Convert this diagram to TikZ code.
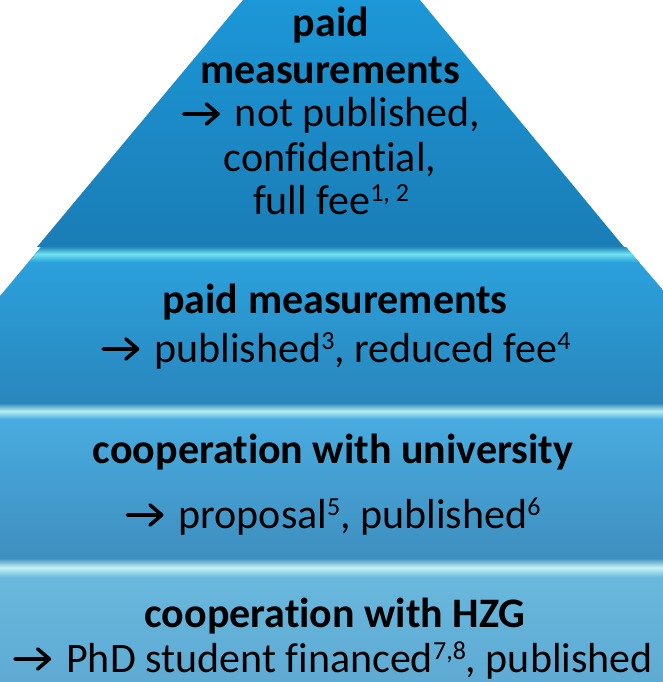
\documentclass[tikz,border=0pt]{standalone}
\usepackage{fontspec}
\setmainfont{Carlito}[Ligatures=NoCommon]
\definecolor{aT}{HTML}{1C97D7}
\definecolor{aB}{HTML}{1A7DB6}
\definecolor{bT}{HTML}{2BA3DF}
\definecolor{bB}{HTML}{2A86BC}
\definecolor{cT}{HTML}{4AAEE2}
\definecolor{cB}{HTML}{3E8FBF}
\definecolor{dT}{HTML}{6BBADF}
\definecolor{dB}{HTML}{5EAAD3}
\definecolor{hB}{HTML}{70E2F0}
\definecolor{hC}{HTML}{B4EEF0}
\definecolor{hD}{HTML}{C6F2F2}
\newcommand\rarr{\tikz[baseline=0pt]{\draw[line width=0.085em,line cap=round,line join=round] (0,0.31em) -- (0.82em,0.31em) (0.54em,0.07em) -- (0.82em,0.31em) -- (0.54em,0.55em);}\hspace{0.36em}}
\newcommand\supr[1]{\raisebox{0.3em}{\fontsize{26}{26}\selectfont #1}}
\tikzset{
  txt/.style={anchor=base, inner sep=0pt, font=\fontsize{42}{42}\selectfont, text=black},
  bold/.style={txt, font=\fontsize{42}{42}\selectfont\bfseries},
}
\begin{document}
\begin{tikzpicture}[x=1pt,y=-1pt]
\useasboundingbox (0,0) rectangle (663,682);
% layer 1
\shade[top color=aT, bottom color=aB] (243,0) -- (420,0) -- (624,247) -- (37,247) -- cycle;
% layer 2
\shade[top color=bT, bottom color=bB] (41,247) -- (626,247) -- (663,290) -- (663,405) -- (0,405) -- (0,296) -- cycle;
\begin{scope}
\clip (41,247) -- (626,247) -- (663,290) -- (663,405) -- (0,405) -- (0,296) -- cycle;
\shade[top color=aB, bottom color=bT, middle color=hB] (0,246) rectangle (663,262);
\end{scope}
% layer 3
\shade[top color=cT, bottom color=cB] (0,405) rectangle (663,560);
\shade[top color=bB, bottom color=cT, middle color=hC] (0,403) rectangle (663,419);
% layer 4
\shade[top color=dT, bottom color=dB] (0,560) rectangle (663,682);
\shade[top color=cB, bottom color=dT, middle color=hD] (0,558) rectangle (663,577);
% texts
\node[bold] (t1) at (331,37) {paid};
\node[bold] (t2) at (330,84) {measurements};
\node[txt] (t3) at (331,127) {\rarr not published,};
\node[txt] (t4) at (330,171) {confidential,};
\node[txt] (t5) at (331,214) {full fee\supr{1, 2}};
\node[bold] (s1) at (335,313) {paid measurements};
\node[txt] (s2) at (336,362) {\rarr published\supr{3}, reduced fee\supr{4}};
\node[bold] (u1) at (333,463) {cooperation with university};
\node[txt] (u2) at (333,528) {\rarr proposal\supr{5}, published\supr{6}};
\node[bold] (h1) at (335,627) {cooperation with HZG};
\node[txt] (h2) at (333,672) {\rarr PhD student financed\supr{7,8}, published};
\end{tikzpicture}
\end{document}
